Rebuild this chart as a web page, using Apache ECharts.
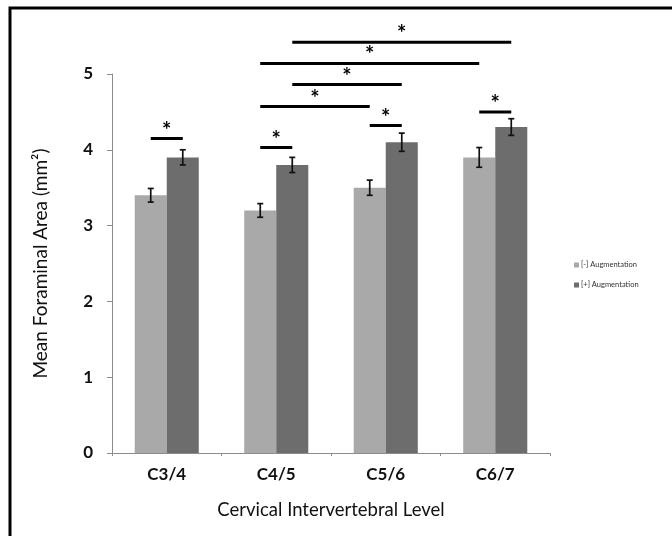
<!DOCTYPE html>
<html><head><meta charset="utf-8">
<script src="https://cdn.jsdelivr.net/npm/echarts@6/dist/echarts.min.js"></script>
<style>html,body{margin:0;padding:0;background:#fff}#c{width:672px;height:536px}</style>
</head><body><div id="c"></div>
<script>
const categories = ['C3/4', 'C4/5', 'C5/6', 'C6/7'];
const seriesNames = ['[-] Augmentation', '[+] Augmentation'];
const minusValues = [3.4, 3.2, 3.5, 3.9];
const plusValues = [3.9, 3.8, 4.1, 4.3];
const minusErr = [0.09, 0.09, 0.1, 0.13];
const plusErr = [0.1, 0.1, 0.12, 0.11];
const yTicks = [0, 1, 2, 3, 4, 5];
// significance brackets: [fromCategory, fromSeries(0=-,1=+), toCategory, toSeries, level]
const sigFrom = [[0,0],[1,0],[2,0],[3,0],[1,0],[1,1],[1,0],[1,1]];
const sigTo   = [[0,1],[1,1],[2,1],[3,1],[2,0],[2,1],[3,0],[3,1]];
const sigLevel = [4.15, 4.03, 4.32, 4.5, 4.57, 4.86, 5.14, 5.42];

const FONT = 'Lato, "Open Sans", sans-serif';
const CAT_GAP = 0.415;
const BAR_FRAC = (1 - CAT_GAP) / 2;

function barX(api, cat, side) {
  const band = api.size([1, 0])[0];
  return api.coord([cat, 0])[0] + (side === 0 ? -1 : 1) * band * BAR_FRAC / 2;
}

const errData0 = categories.map((c, i) => [i, minusValues[i], minusErr[i], 0]);
const errData1 = categories.map((c, i) => [i, plusValues[i], plusErr[i], 1]);
const sigData = sigLevel.map((lv, k) => [sigFrom[k][0], sigFrom[k][1], sigTo[k][0], sigTo[k][1], lv]);

function renderErr(params, api) {
  const cat = api.value(0), v = api.value(1), e = api.value(2), side = api.value(3);
  const x = barX(api, cat, side);
  const yHi = api.coord([cat, v + e])[1];
  const yLo = api.coord([cat, v - e])[1];
  const cw = 3;
  const st = {stroke: '#111', lineWidth: 1.7};
  return {type: 'group', children: [
    {type: 'line', shape: {x1: x, y1: yHi, x2: x, y2: yLo}, style: st},
    {type: 'line', shape: {x1: x - cw, y1: yHi, x2: x + cw, y2: yHi}, style: st},
    {type: 'line', shape: {x1: x - cw, y1: yLo, x2: x + cw, y2: yLo}, style: st}
  ]};
}

function renderSig(params, api) {
  const x1 = barX(api, api.value(0), api.value(1));
  const x2 = barX(api, api.value(2), api.value(3));
  const y = api.coord([api.value(0), api.value(4)])[1];
  return {type: 'group', children: [
    {type: 'line', shape: {x1: x1, y1: y, x2: x2, y2: y}, style: {stroke: '#000', lineWidth: 3}},
    {type: 'text', x: (x1 + x2) / 2, y: y - 8, style: {text: '*', fill: '#000', font: 'bold 22px ' + FONT, align: 'center', verticalAlign: 'middle'}}
  ]};
}

const chart = echarts.init(document.getElementById('c'));
chart.setOption({
  animation: false,
  backgroundColor: '#fff',
  graphic: [{type: 'rect', shape: {x: 10, y: 8, width: 800, height: 700}, style: {fill: 'none', stroke: '#000', lineWidth: 3}, silent: true}],
  grid: {left: 112, right: 122, top: 74, bottom: 83},
  legend: {
    orient: 'vertical', left: 569, top: 256, itemWidth: 5, itemHeight: 5, itemGap: 12,
    icon: 'rect', data: seriesNames,
    textStyle: {fontSize: 7.5, fontFamily: FONT, color: '#333', padding: [0, 0, 0, -3]}
  },
  xAxis: {
    type: 'category', data: categories,
    axisLine: {lineStyle: {color: '#8c8c8c', width: 1}},
    axisTick: {show: true, length: 3, lineStyle: {color: '#8c8c8c'}},
    axisLabel: {fontSize: 17, fontWeight: 'bold', color: '#111', fontFamily: FONT, margin: 13},
    name: 'Cervical Intervertebral Level', nameLocation: 'middle', nameGap: 48,
    nameTextStyle: {fontSize: 18.5, color: '#111', fontFamily: FONT}
  },
  yAxis: {
    type: 'value', min: 0, max: 5, interval: 1,
    axisLine: {show: true, lineStyle: {color: '#8c8c8c', width: 1}},
    axisTick: {show: true, length: 5, lineStyle: {color: '#8c8c8c'}},
    splitLine: {show: false},
    axisLabel: {fontSize: 17, fontWeight: 'bold', color: '#111', fontFamily: FONT, margin: 19,
      formatter: v => yTicks.indexOf(v) >= 0 ? String(v) : ''},
    name: 'Mean Foraminal Area (mm²)', nameLocation: 'middle', nameGap: 62,
    nameTextStyle: {fontSize: 19, color: '#111', fontFamily: FONT}
  },
  series: [
    {name: seriesNames[0], type: 'bar', data: minusValues, barGap: '0%', barCategoryGap: (CAT_GAP * 100) + '%',
      itemStyle: {color: '#a9a9a9'}},
    {name: seriesNames[1], type: 'bar', data: plusValues, barGap: '0%', barCategoryGap: (CAT_GAP * 100) + '%',
      itemStyle: {color: '#6d6d6d'}},
    {type: 'custom', data: errData0, renderItem: renderErr, encode: {x: 0, y: 1}, z: 5, silent: true},
    {type: 'custom', data: errData1, renderItem: renderErr, encode: {x: 0, y: 1}, z: 5, silent: true},
    {type: 'custom', data: sigData, renderItem: renderSig, encode: {x: 0, y: 4}, clip: false, z: 6, silent: true}
  ]
});
</script></body></html>
